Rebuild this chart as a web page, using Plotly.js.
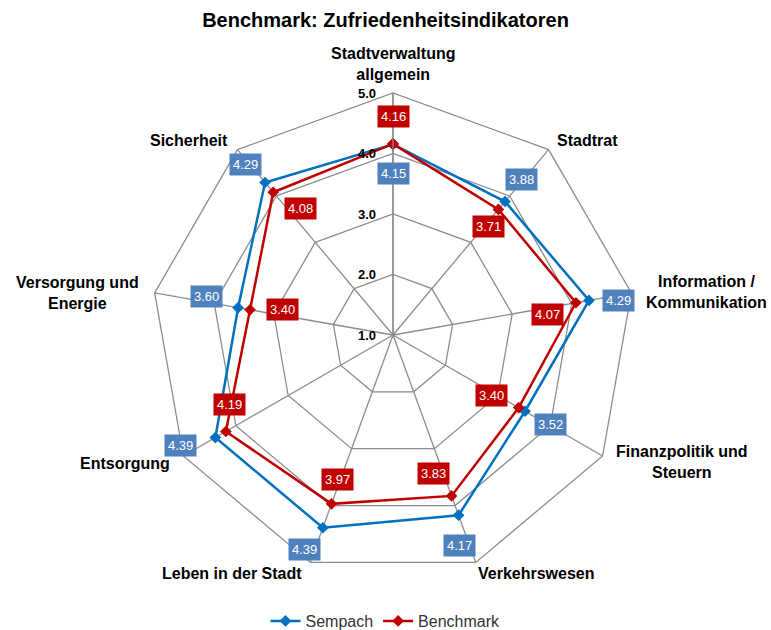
<!DOCTYPE html>
<html>
<head>
<meta charset="utf-8">
<script src="https://cdn.plot.ly/plotly-3.0.1.min.js"></script>
<style>html,body{margin:0;padding:0;background:#fff;}#chart{width:771px;height:630px;}</style>
</head>
<body>
<div id="chart"></div>
<script>
// ---- data ----
var categories = ["Stadtverwaltung allgemein", "Stadtrat", "Information / Kommunikation", "Finanzpolitik und Steuern", "Verkehrswesen", "Leben in der Stadt", "Entsorgung", "Versorgung und Energie", "Sicherheit"];
var categoryLabels = ["Stadtverwaltung<br>allgemein", "Stadtrat", "Information /<br>Kommunikation", "Finanzpolitik und<br>Steuern", "Verkehrswesen", "Leben in der Stadt", "Entsorgung", "Versorgung und<br>Energie", "Sicherheit"];
var sempach = [4.15, 3.88, 4.29, 3.52, 4.17, 4.39, 4.39, 3.60, 4.29];
var benchmark = [4.16, 3.71, 4.07, 3.40, 3.83, 3.97, 4.19, 3.40, 4.08];
var radialTicks = [1, 2, 3, 4, 5];
var radialTickLabels = ["1.0", "2.0", "3.0", "4.0", "5.0"];

// ---- label placement offsets (pixels, style only) ----
var semShift = [[0,-29],[16,22],[29,0],[25,-13],[1,-30],[-18,-22],[-35,-8],[-32,11],[-20,18]];
var benShift = [[0,27],[-10,-17],[-28,-12],[-27,12],[-18,22],[6,24],[4,27],[32,0],[27,-16]];
var catShift = [[0,29],[39,9],[75,1],[79,-6],[61,-11],[-78,-11],[-58,-7],[-77,0],[-48,9]];

var BLUE_LINE = "#0070C0", BLUE_BOX = "#4F81BD", RED = "#C00000", GRID = "#8C8C8C";
var FONT = "Liberation Sans, Arial, sans-serif";
var RMIN = 1, RMAX = 5;
var cx = 393, cy = 335, R = 242, W = 771, H = 630;
var domX = [(cx - R) / W, (cx + R) / W];
var domY = [(H - cy - R) / H, (H - cy + R) / H];

function closed(a) { return a.concat([a[0]]); }

var traces = [
  {type: "scatterpolar", r: closed(sempach), theta: closed(categories), name: "Sempach",
   mode: "lines+markers", line: {color: BLUE_LINE, width: 2.5},
   marker: {symbol: "diamond", size: 9, color: BLUE_LINE}},
  {type: "scatterpolar", r: closed(benchmark), theta: closed(categories), name: "Benchmark",
   mode: "lines+markers", line: {color: RED, width: 2.5},
   marker: {symbol: "diamond", size: 9, color: RED}},
  {type: "scatter", x: [], y: [], xaxis: "x", yaxis: "y", showlegend: false, hoverinfo: "skip"}
];

var n = categories.length;
function toXY(r, i) {
  var a = (90 - i * 360 / n) * Math.PI / 180;
  return [(r - RMIN) * Math.cos(a), (r - RMIN) * Math.sin(a)];
}
var annotations = [];
function addLabels(vals, shifts, color) {
  vals.forEach(function (v, i) {
    var p = toXY(v, i);
    annotations.push({x: p[0], y: p[1], xref: "x", yref: "y", showarrow: false,
      text: v.toFixed(2), xshift: shifts[i][0], yshift: shifts[i][1],
      bgcolor: color, borderpad: 3,
      font: {family: FONT, size: 13, color: "#ffffff"}});
  });
}
addLabels(sempach, semShift, BLUE_BOX);
addLabels(benchmark, benShift, RED);
categoryLabels.forEach(function (t, i) {
  var p = toXY(RMAX, i);
  annotations.push({x: p[0], y: p[1], xref: "x", yref: "y", showarrow: false,
    text: "<b>" + t + "</b>", align: "center", xanchor: "center", yanchor: "middle",
    xshift: catShift[i][0], yshift: catShift[i][1],
    font: {family: FONT, size: 16, color: "#000"}});
});
radialTicks.forEach(function (t, i) {
  var p = toXY(t, 0);
  annotations.push({x: p[0], y: p[1], xref: "x", yref: "y", showarrow: false,
    text: "<b>" + radialTickLabels[i] + "</b>", xanchor: "right", yanchor: "middle",
    xshift: -15, yshift: 0,
    font: {family: FONT, size: 13, color: "#000"}});
});

var layout = {
  width: W, height: H,
  margin: {l: 0, r: 0, t: 0, b: 0, autoexpand: false},
  paper_bgcolor: "#ffffff", plot_bgcolor: "rgba(0,0,0,0)",
  font: {family: FONT, color: "#000"},
  title: {text: "<b>Benchmark: Zufriedenheitsindikatoren</b>", x: 0.5, xanchor: "center",
          y: 0.968, yanchor: "middle", font: {size: 20, color: "#000"}},
  showlegend: true,
  legend: {orientation: "h", x: 0.5, xanchor: "center", y: 0.0143, yanchor: "middle",
           font: {size: 16, color: "#333"}, traceorder: "normal"},
  polar: {
    domain: {x: domX, y: domY},
    bgcolor: "rgba(0,0,0,0)",
    gridshape: "linear",
    radialaxis: {range: [RMIN, RMAX], tickvals: radialTicks, showticklabels: false,
      angle: 90, showline: true, linecolor: GRID, linewidth: 1.3,
      gridcolor: GRID, gridwidth: 1.3, ticks: ""},
    angularaxis: {direction: "clockwise", rotation: 90, categoryorder: "array", categoryarray: categories,
      showticklabels: false,
      showline: true, linecolor: GRID, linewidth: 1.3, gridcolor: GRID, gridwidth: 1.3, ticks: ""}
  },
  xaxis: {domain: domX, range: [-(RMAX - RMIN), RMAX - RMIN], visible: false, fixedrange: true},
  yaxis: {domain: domY, range: [-(RMAX - RMIN), RMAX - RMIN], visible: false, fixedrange: true},
  annotations: annotations
};

Plotly.newPlot("chart", traces, layout, {displayModeBar: false, staticPlot: true});
</script>
</body>
</html>
